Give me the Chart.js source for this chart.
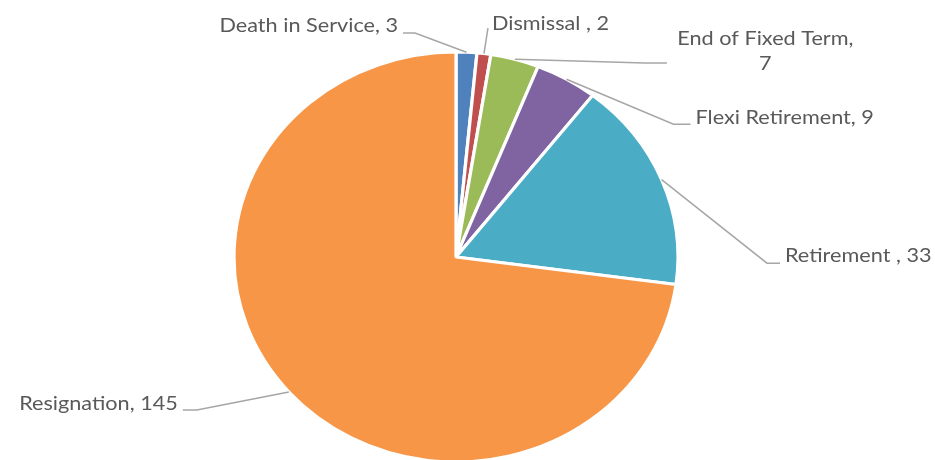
<!DOCTYPE html>
<html>
<head>
<meta charset="utf-8">
<script src="https://cdn.jsdelivr.net/npm/chart.js@4/dist/chart.umd.min.js"></script>
<style>
  html, body { margin: 0; padding: 0; background: #ffffff; }
  #wrap { width: 935px; height: 460px; }
</style>
</head>
<body>
<div id="wrap"><canvas id="chart" width="935" height="460"></canvas></div>
<script>
// Leavers by reason
const categories = ['Death in Service', 'Dismissal ', 'End of Fixed Term', 'Flexi Retirement', 'Retirement ', 'Resignation'];
const leavers = [3, 2, 7, 9, 33, 145];
const sliceColors = ['#4F81BD', '#C0504D', '#9BBB59', '#8064A2', '#4BACC6', '#F79646'];

// Callout placement for each slice: elbow offset from the slice's edge midpoint,
// horizontal tail length, and text offset from the tail end.
const calloutLayout = [
  { dx: -51.5, dy: -19.3, tail: -12, tx: -5,   ty: -1,  align: 'right'  },
  { dx: 4,     dy: -25.6, tail: 0,   tx: 4,    ty: 2,   align: 'left'   },
  { dx: 130,   dy: 3.6,   tail: 22,  tx: 98.5, ty: -18, align: 'center', wrap: true },
  { dx: 107,   dy: 45,    tail: 17,  tx: 5,    ty: 0,   align: 'left'   },
  { dx: 105.4, dy: 83.5,  tail: 13,  tx: 5,    ty: -1,  align: 'left'   },
  { dx: -92,   dy: 18,    tail: -14, tx: -5,   ty: 0,   align: 'right'  }
];

const stretchX = 222 / 205;   // whole drawing is slightly wider than tall
const labelFont = '20px Lato';
const labelColor = '#595959';
const leaderColor = '#A6A6A6';
const lineHeight = 25;

// Widen the pie horizontally around its centre
const ellipsePlugin = {
  id: 'ellipsePie',
  beforeDatasetsDraw(chart) {
    const arc = chart.getDatasetMeta(0).data[0];
    const ctx = chart.ctx;
    ctx.save();
    ctx.translate(arc.x, arc.y);
    ctx.scale(stretchX, 1);
    ctx.translate(-arc.x, -arc.y);
  },
  afterDatasetsDraw(chart) {
    chart.ctx.restore();
  }
};

// Data labels with leader lines
const calloutPlugin = {
  id: 'callouts',
  afterDraw(chart) {
    const ctx = chart.ctx;
    const meta = chart.getDatasetMeta(0);
    const values = chart.data.datasets[0].data;
    meta.data.forEach((arc, i) => {
      const p = calloutLayout[i];
      const mid = (arc.startAngle + arc.endAngle) / 2;
      const ax = arc.x + stretchX * arc.outerRadius * Math.cos(mid);
      const ay = arc.y + arc.outerRadius * Math.sin(mid);
      const ex = ax + p.dx, ey = ay + p.dy;
      const tx = ex + p.tail;

      ctx.save();
      ctx.strokeStyle = leaderColor;
      ctx.lineWidth = 1.5;
      ctx.beginPath();
      ctx.moveTo(ax, ay);
      ctx.lineTo(ex, ey);
      if (p.tail !== 0) ctx.lineTo(tx, ey);
      ctx.stroke();

      const name = chart.data.labels[i];
      const lines = p.wrap ? [name + ',', String(values[i])] : [name + ', ' + values[i]];
      ctx.font = labelFont;
      ctx.fillStyle = labelColor;
      ctx.textAlign = p.align;
      ctx.textBaseline = 'alphabetic';
      lines.forEach((t, k) => {
        ctx.save();
        ctx.translate(tx + p.tx, ey + p.ty + k * lineHeight);
        ctx.scale(stretchX, 1);
        ctx.fillText(t, 0, 0);
        ctx.restore();
      });
      ctx.restore();
    });
  }
};

new Chart(document.getElementById('chart'), {
  type: 'pie',
  data: {
    labels: categories,
    datasets: [{
      data: leavers,
      backgroundColor: sliceColors,
      borderColor: '#ffffff',
      borderWidth: 3
    }]
  },
  options: {
    responsive: false,
    animation: false,
    radius: 205,
    layout: { padding: { top: 54, bottom: 0, left: 0, right: 23 } },
    plugins: {
      legend: { display: false },
      tooltip: { enabled: false }
    }
  },
  plugins: [ellipsePlugin, calloutPlugin]
});
</script>
</body>
</html>
